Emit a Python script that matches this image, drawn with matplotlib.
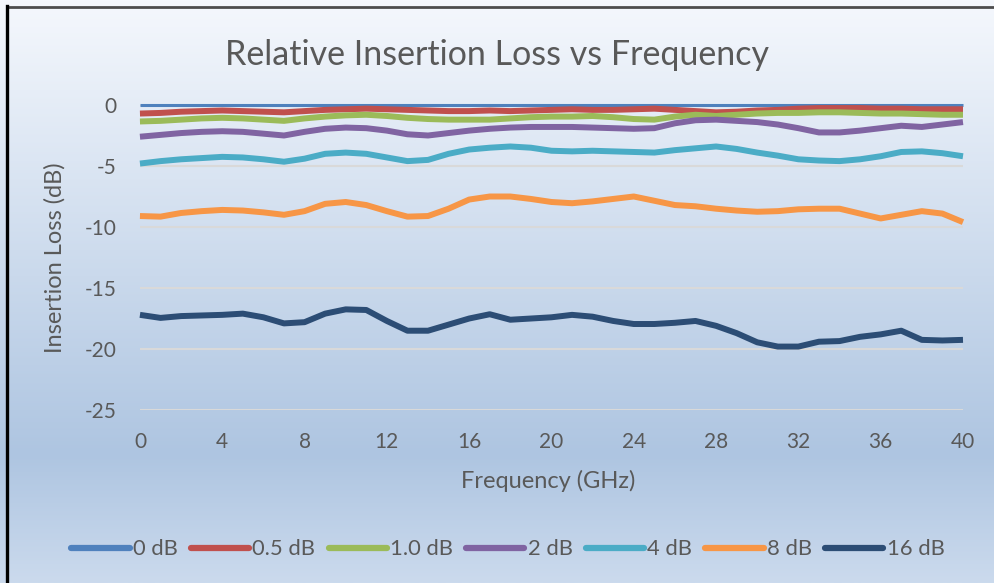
import numpy as np
import matplotlib.pyplot as plt
from matplotlib.lines import Line2D

# Frequency grid (GHz) and curves
freq = list(range(0, 41))

loss_0db = [0.0] * 41
loss_05db = [-0.7, -0.65, -0.55, -0.5, -0.45, -0.5, -0.55, -0.6, -0.5, -0.4,
             -0.35, -0.3, -0.35, -0.4, -0.45, -0.5, -0.5, -0.45, -0.5, -0.45,
             -0.4, -0.35, -0.4, -0.4, -0.35, -0.3, -0.4, -0.5, -0.6, -0.55,
             -0.45, -0.4, -0.3, -0.25, -0.25, -0.25, -0.3, -0.3, -0.35, -0.35, -0.35]
loss_1db = [-1.35, -1.3, -1.2, -1.1, -1.05, -1.1, -1.2, -1.3, -1.1, -0.95,
            -0.85, -0.8, -0.9, -1.05, -1.15, -1.2, -1.2, -1.2, -1.1, -1.0,
            -0.95, -0.95, -0.9, -1.0, -1.15, -1.2, -0.95, -0.8, -0.9, -0.8,
            -0.7, -0.65, -0.65, -0.6, -0.6, -0.65, -0.7, -0.7, -0.75, -0.8, -0.8]
loss_2db = [-2.6, -2.45, -2.3, -2.2, -2.15, -2.2, -2.35, -2.5, -2.2, -1.95,
            -1.85, -1.9, -2.1, -2.4, -2.5, -2.3, -2.1, -1.95, -1.85, -1.8,
            -1.8, -1.8, -1.85, -1.9, -1.95, -1.9, -1.5, -1.25, -1.2, -1.3,
            -1.4, -1.6, -1.9, -2.25, -2.25, -2.1, -1.9, -1.7, -1.8, -1.6, -1.4]
loss_4db = [-4.8, -4.6, -4.45, -4.35, -4.25, -4.3, -4.45, -4.65, -4.4, -4.0,
            -3.9, -4.0, -4.3, -4.6, -4.5, -4.0, -3.65, -3.5, -3.4, -3.5,
            -3.75, -3.8, -3.75, -3.8, -3.85, -3.9, -3.7, -3.55, -3.4, -3.6,
            -3.9, -4.15, -4.45, -4.55, -4.6, -4.45, -4.2, -3.85, -3.8, -3.95, -4.2]
loss_8db = [-9.1, -9.15, -8.85, -8.7, -8.6, -8.65, -8.8, -9.0, -8.7, -8.1,
            -7.95, -8.2, -8.7, -9.15, -9.1, -8.5, -7.75, -7.5, -7.5, -7.7,
            -7.95, -8.05, -7.9, -7.7, -7.5, -7.85, -8.2, -8.3, -8.5, -8.65,
            -8.75, -8.7, -8.55, -8.5, -8.5, -8.9, -9.3, -9.0, -8.7, -8.9, -9.6]
loss_16db = [-17.2, -17.45, -17.3, -17.25, -17.2, -17.1, -17.4, -17.9, -17.8, -17.1,
             -16.75, -16.8, -17.7, -18.5, -18.5, -18.0, -17.5, -17.15, -17.6, -17.5,
             -17.4, -17.2, -17.35, -17.7, -17.95, -17.95, -17.85, -17.7, -18.1, -18.7,
             -19.45, -19.8, -19.8, -19.4, -19.35, -19.0, -18.8, -18.5, -19.25, -19.3, -19.25]

labels = ['0 dB', '0.5 dB', '1.0 dB', '2 dB', '4 dB', '8 dB', '16 dB']
series = [loss_0db, loss_05db, loss_1db, loss_2db, loss_4db, loss_8db, loss_16db]
colors = ['#4f81bd', '#c0504d', '#9bbb59', '#8064a2', '#4bacc6', '#f79646', '#2c4d75']

plt.rcParams['font.family'] = ['Lato', 'DejaVu Sans']
plt.rcParams['axes.unicode_minus'] = False
text_color = '#595959'

fig = plt.figure(figsize=(9.94, 5.83), dpi=100)

# gradient background (light at top, blue lower down, a bit lighter at the very bottom)
bg = fig.add_axes([0, 0, 1, 1], zorder=-10)
top = np.array([245, 248, 253]) / 255
mid = np.array([174, 197, 225]) / 255
bot = np.array([203, 218, 237]) / 255
t = np.linspace(0, 1, 300)[:, None]
grad = np.where(t < 0.78, top + (mid - top) * (t / 0.78), mid + (bot - mid) * ((t - 0.78) / 0.22))
bg.imshow(grad[:, None, :], aspect='auto', extent=[0, 1, 0, 1])
bg.set_axis_off()

# frame: only the top and left edges show in the crop
fig.lines.append(Line2D([0.0075, 1.0], [0.9875, 0.9875], transform=fig.transFigure,
                        color='#4d4d4d', linewidth=2))
fig.lines.append(Line2D([0.0075, 0.0075], [0.0, 0.989], transform=fig.transFigure,
                        color='black', linewidth=2.4))

ax = fig.add_axes([0.1408, 0.2967, 0.828, 0.5232])
ax.patch.set_alpha(0)
for s, lab, c in zip(series, labels, colors):
    lw = 2.2 if lab == '0 dB' else 4.3
    ax.plot(freq, s, color=c, linewidth=lw, label=lab, clip_on=False,
            solid_capstyle='butt')

ax.set_xlim(0, 40)
ax.set_ylim(-25, 0)
ax.set_xticks(range(0, 41, 4))
ax.set_yticks(range(-25, 1, 5))
ax.grid(axis='y', color='#d9d9d9', linewidth=1.5)
ax.set_axisbelow(True)
for sp in ax.spines.values():
    sp.set_visible(False)
ax.tick_params(length=0, labelsize=15, labelcolor=text_color)
ax.tick_params(axis='x', pad=16)
ax.tick_params(axis='y', pad=17)

fig.text(0.5, 0.905, 'Relative Insertion Loss vs Frequency', fontsize=24.5,
         color=text_color, ha='center', va='center')
fig.text(0.5513, 0.175, 'Frequency (GHz)', fontsize=17, color=text_color,
         ha='center', va='center')
fig.text(0.0553, 0.5575, 'Insertion Loss (dB)', fontsize=17, color=text_color,
         ha='center', va='center', rotation=90)

leg = fig.legend(loc='center', bbox_to_anchor=(0.511, 0.058), ncol=7, frameon=False,
                 fontsize=15.8, handlelength=2.65, handletextpad=0.15, columnspacing=0.6)
for txt in leg.get_texts():
    txt.set_color(text_color)
for h in leg.get_lines():
    h.set_linewidth(4.5)
    h.set_solid_capstyle('round')

plt.savefig('out.png', dpi=100)
